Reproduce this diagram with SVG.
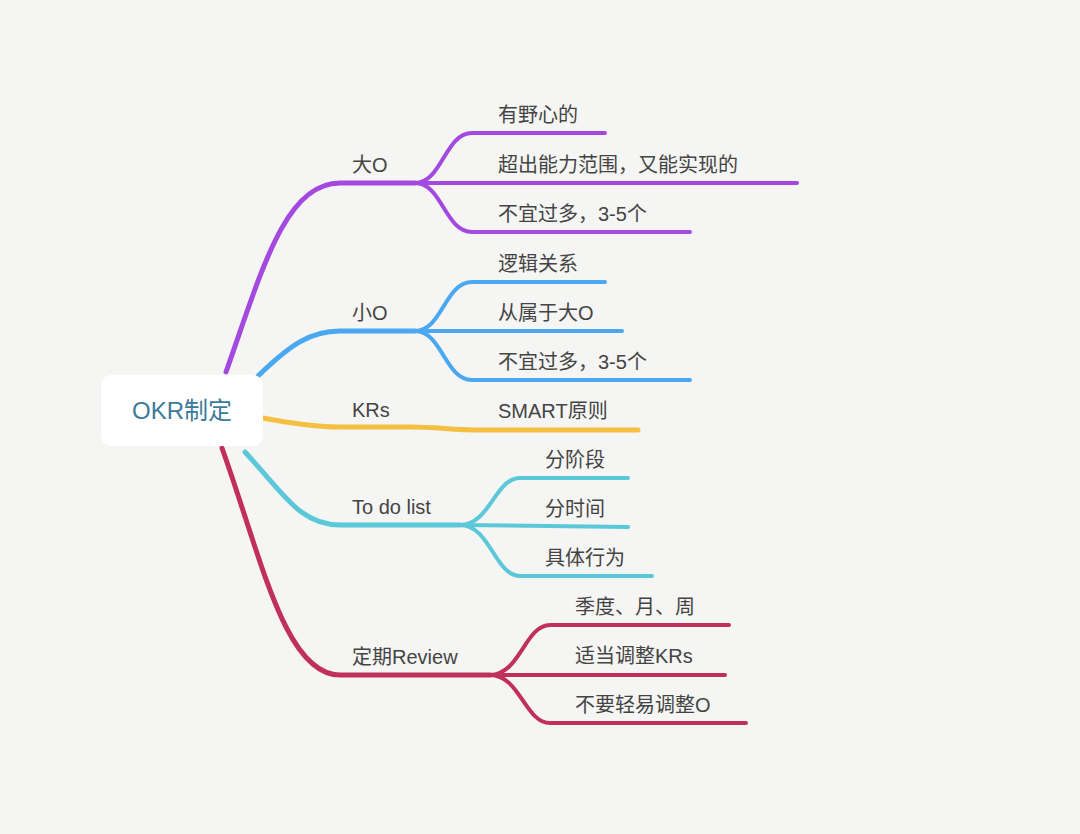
<svg xmlns="http://www.w3.org/2000/svg" width="1080" height="834" viewBox="0 0 1080 834">
<style>
text{font-family:"Liberation Sans","Noto Sans CJK SC",sans-serif;font-size:20px;fill:#444}
path{fill:none;stroke-linecap:round}
.p{stroke:#a349e0}.b{stroke:#4aa8f0}.y{stroke:#f5c042}.c{stroke:#5ac8d8}.r{stroke:#c0305a}
.m{stroke-width:5}.s{stroke-width:4}
</style>
<rect width="1080" height="834" fill="#f5f5f3"/>
<g id="connectors">
<path class="p m" d="M226,372 C262,270 285,183 340,183 L415,183"/>
<path class="p s" d="M415,183 C442,183 445,133 472,133 L605,133"/>
<path class="p s" d="M415,183 L797,183"/>
<path class="p s" d="M415,183 C442,183 445,232 472,232 L690,232"/>
<path class="b m" d="M258,376 C290,345 310,331 340,331 L415,331"/>
<path class="b s" d="M415,331 C442,331 445,282 472,282 L605,282"/>
<path class="b s" d="M415,331 L622,331"/>
<path class="b s" d="M415,331 C442,331 445,380 472,380 L690,380"/>
<path class="y m" d="M263,418 C300,425 320,427 340,427 L410,427 C440,427 450,430 480,430 L638,430"/>
<path class="c m" d="M245,452 C285,495 300,525 340,525 L460,525"/>
<path class="c s" d="M460,525 C490,525 495,478 520,478 L628,478"/>
<path class="c s" d="M460,525 L628,527"/>
<path class="c s" d="M460,525 C490,525 495,576 520,576 L652,576"/>
<path class="r m" d="M222,448 C262,560 285,675 340,675 L490,675"/>
<path class="r s" d="M490,675 C520,675 525,625 550,625 L729,625"/>
<path class="r s" d="M490,675 L725,675"/>
<path class="r s" d="M490,675 C520,675 525,723 550,723 L746,723"/>
</g>
<g id="root"><rect x="101" y="375" width="162" height="71" rx="10" fill="#fff"/><text x="182" y="419" text-anchor="middle" style="font-size:24px;fill:#3a7a9a">OKR制定</text></g>
<g id="n1"><text x="352" y="172">大O</text></g>
<g id="n11"><text x="498" y="122">有野心的</text></g>
<g id="n12"><text x="498" y="172">超出能力范围，又能实现的</text></g>
<g id="n13"><text x="498" y="221">不宜过多，3-5个</text></g>
<g id="n2"><text x="352" y="320">小O</text></g>
<g id="n21"><text x="498" y="271">逻辑关系</text></g>
<g id="n22"><text x="498" y="320">从属于大O</text></g>
<g id="n23"><text x="498" y="369">不宜过多，3-5个</text></g>
<g id="n3"><text x="352" y="417">KRs</text></g>
<g id="n31"><text x="498" y="418">SMART原则</text></g>
<g id="n4"><text x="352" y="514">To do list</text></g>
<g id="n41"><text x="545" y="467">分阶段</text></g>
<g id="n42"><text x="545" y="516">分时间</text></g>
<g id="n43"><text x="545" y="565">具体行为</text></g>
<g id="n5"><text x="352" y="664">定期Review</text></g>
<g id="n51"><text x="575" y="614">季度、月、周</text></g>
<g id="n52"><text x="575" y="663">适当调整KRs</text></g>
<g id="n53"><text x="575" y="712">不要轻易调整O</text></g>
</svg>
